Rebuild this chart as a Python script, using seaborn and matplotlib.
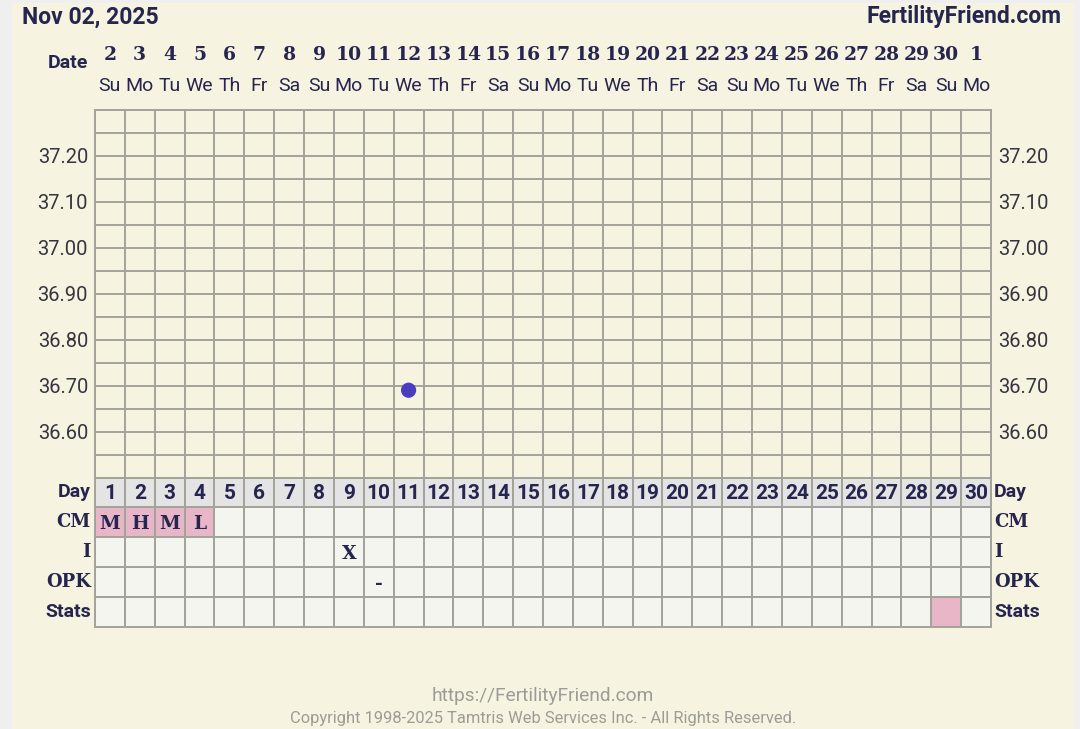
import numpy as np
import pandas as pd
import matplotlib
matplotlib.use("Agg")
import matplotlib.pyplot as plt
import matplotlib.transforms as mtransforms
from matplotlib.colors import ListedColormap
from matplotlib.patches import Rectangle
import seaborn as sns

# chart data
chart_title = "Nov 02, 2025"
site_name = "FertilityFriend.com"
dates = [2, 3, 4, 5, 6, 7, 8, 9, 10, 11, 12, 13, 14, 15, 16,
         17, 18, 19, 20, 21, 22, 23, 24, 25, 26, 27, 28, 29, 30, 1]
weekdays = ["Su", "Mo", "Tu", "We", "Th", "Fr", "Sa", "Su", "Mo", "Tu",
            "We", "Th", "Fr", "Sa", "Su", "Mo", "Tu", "We", "Th", "Fr",
            "Sa", "Su", "Mo", "Tu", "We", "Th", "Fr", "Sa", "Su", "Mo"]
cycle_days = list(range(1, 31))
temp_days = [11]
temps = [36.69]
temp_ticks = [36.60, 36.70, 36.80, 36.90, 37.00, 37.10, 37.20]
cm_days = [1, 2, 3, 4]
cm_values = ["M", "H", "M", "L"]
intercourse_days = [9]
intercourse_values = ["X"]
opk_days = [10]
opk_values = ["-"]
stats_days = [29]
row_labels = ["Day", "CM", "I", "OPK", "Stats"]

CREAM = "#f6f4e1"
OUTER = "#efefef"
GRID = "#a3a39b"
NAVY = "#26254f"
TICK = "#35343f"
CELL = "#f5f5ef"
DAYROW = "#e4e4e4"
PINK = "#e8b6c6"
DOT = "#4a3ec0"
FOOT = "#9c9c96"

plt.rcParams["font.family"] = ["Roboto", "DejaVu Sans"]
SERIF = ["DejaVu Serif"]

fig = plt.figure(figsize=(10.8, 7.29), dpi=100, facecolor=OUTER)
fig.patches.append(Rectangle((12 / 1080, 0), 1062 / 1080, 726 / 729,
                             transform=fig.transFigure, facecolor=CREAM,
                             edgecolor="none", zorder=-10))

L, R = 95 / 1080, 991 / 1080

# temperature grid
ax = fig.add_axes([L, 1 - 477.5 / 729, R - L, 367.5 / 729])
ax.set_facecolor(CREAM)
df = pd.DataFrame({"day": temp_days, "temp": temps})
sns.scatterplot(data=df, x="day", y="temp", ax=ax, s=120, color=DOT,
                edgecolor="none", zorder=3)
ax.set_xlim(0.5, 30.5)
ax.set_ylim(36.5, 37.3)
ax.set_xticks(np.arange(0.5, 30.6, 1))
yt = np.round(np.arange(36.5, 37.301, 0.05), 2)
ax.set_yticks(yt)
ax.set_yticklabels([f"{v:.2f}" if any(abs(v - t) < 1e-6 for t in temp_ticks) else "" for v in yt])
ax.tick_params(axis="x", length=0, labelbottom=False)
ax.tick_params(axis="y", length=0, labelright=True, labelsize=14.5,
               labelcolor=TICK, pad=5)
ax.grid(True, color=GRID, lw=1.4)
ax.set_axisbelow(True)
for sp in ax.spines.values():
    sp.set_color(GRID)
    sp.set_linewidth(1.4)
ax.set_xlabel("")
ax.set_ylabel("")

# date header
hdr = mtransforms.blended_transform_factory(ax.transData, fig.transFigure)
for i, (d, w) in enumerate(zip(dates, weekdays)):
    ax.text(i + 1, 1 - 55 / 729, str(d), transform=hdr, ha="center", va="center",
            fontsize=13.5, fontweight="bold", family=SERIF, color=NAVY)
    ax.text(i + 1, 1 - 86 / 729, w, transform=hdr, ha="center", va="center",
            fontsize=14, color=NAVY)
fig.text(88 / 1080, 1 - 63 / 729, "Date", ha="right", va="center",
         fontsize=14, fontweight="bold", color=NAVY)

# chart table
tax = fig.add_axes([L, 1 - 627 / 729, R - L, 149.5 / 729])
codes = np.zeros((5, 30))
codes[0, :] = 1
for d in cm_days:
    codes[1, d - 1] = 2
for d in stats_days:
    codes[4, d - 1] = 2
sns.heatmap(codes, ax=tax, cmap=ListedColormap([CELL, DAYROW, PINK]),
            vmin=-0.5, vmax=2.5, cbar=False, linewidths=1.4, linecolor=GRID,
            xticklabels=False, yticklabels=False)
for sp in tax.spines.values():
    sp.set_visible(True)
    sp.set_color(GRID)
    sp.set_linewidth(1.4)

for d in cycle_days:
    tax.text(d - 0.5, 0.55, str(d), ha="center", va="center", fontsize=15,
             fontweight="bold", color=NAVY)
for row, days, vals in [(1, cm_days, cm_values),
                        (2, intercourse_days, intercourse_values),
                        (3, opk_days, opk_values)]:
    for d, v in zip(days, vals):
        tax.text(d - 0.5, row + 0.55, v, ha="center", va="center",
                 fontsize=13.5, fontweight="bold", family=SERIF, color=NAVY)

rt = mtransforms.blended_transform_factory(fig.transFigure, tax.transData)
for r, lab in enumerate(row_labels):
    fam = SERIF if lab in ("CM", "I", "OPK") else ["Roboto", "DejaVu Sans"]
    size = 13 if lab in ("CM", "I", "OPK") else 14
    for x, ha in [(91 / 1080, "right"), (994 / 1080, "left")]:
        fig.text(x, r + 0.5, lab, transform=rt, ha=ha, va="center",
                 fontsize=size, fontweight="bold", family=fam, color=NAVY)

# titles and footer
fig.text(22 / 1080, 1 - 17 / 729, chart_title, ha="left", va="center",
         fontsize=16.5, fontweight="bold", color=NAVY)
fig.text(1061 / 1080, 1 - 17 / 729, site_name, ha="right", va="center",
         fontsize=16.5, fontweight="bold", color=NAVY)
fig.text(543 / 1080, 1 - 696 / 729, "https://FertilityFriend.com",
         ha="center", va="center", fontsize=13.8, color=FOOT)
fig.text(543 / 1080, 1 - 719 / 729,
         "Copyright 1998-2025 Tamtris Web Services Inc. - All Rights Reserved.",
         ha="center", va="center", fontsize=11.9, color=FOOT)

fig.savefig("out.png", dpi=100, facecolor=OUTER)
